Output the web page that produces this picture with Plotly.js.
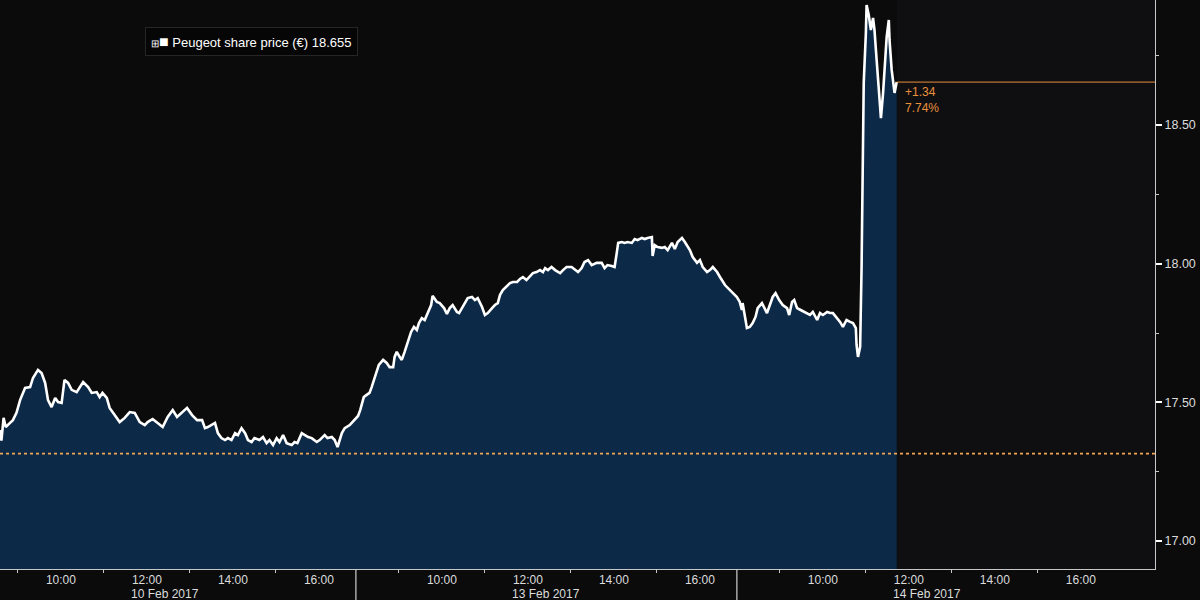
<!DOCTYPE html>
<html>
<head>
<meta charset="utf-8">
<script src="https://cdn.plot.ly/plotly-3.0.1.min.js"></script>
<style>
  html, body { margin: 0; padding: 0; background: #0b0b0c; }
  #chart { width: 1200px; height: 600px; }
</style>
</head>
<body>
<div id="chart"></div>
<script>
// ---------------- DATA ----------------
const dayLabels = ["10 Feb 2017", "13 Feb 2017", "14 Feb 2017"];

const times10Feb = ["08:35","08:37","08:40","08:43","08:49","08:53","08:58","09:03","09:10","09:17",
  "09:21","09:28","09:33","09:38","09:42","09:47","09:52","09:56","10:01","10:05",
  "10:10","10:15","10:22","10:31","10:38","10:43","10:50","10:54","10:58","11:04",
  "11:08","11:15","11:22","11:29","11:36","11:43","11:50","11:57","12:01","12:08",
  "12:15","12:22","12:29","12:36","12:42","12:49","12:56","13:03","13:10","13:17",
  "13:21","13:25","13:30","13:35","13:39","13:44","13:49","13:53","13:58","14:03",
  "14:07","14:12","14:17","14:21","14:26","14:30","14:37","14:42","14:47","14:51",
  "14:56","15:01","15:05","15:10","15:15","15:22","15:26","15:30","15:36","15:40",
  "15:45","15:50","15:57","16:01","16:08","16:12","16:18","16:22","16:26","16:32",
  "16:36","16:43","16:50"];
const price10Feb = [17.400,17.362,17.444,17.411,17.426,17.436,17.462,17.508,17.552,17.555,
  17.588,17.617,17.606,17.570,17.508,17.483,17.516,17.501,17.498,17.581,
  17.570,17.545,17.537,17.573,17.555,17.534,17.537,17.519,17.534,17.516,
  17.480,17.454,17.429,17.444,17.465,17.462,17.429,17.418,17.429,17.440,
  17.426,17.411,17.447,17.472,17.447,17.462,17.480,17.454,17.436,17.436,
  17.407,17.411,17.418,17.426,17.389,17.371,17.364,17.371,17.364,17.389,
  17.382,17.407,17.389,17.364,17.357,17.371,17.364,17.375,17.353,17.364,
  17.346,17.371,17.357,17.382,17.353,17.346,17.357,17.353,17.389,17.382,
  17.375,17.371,17.357,17.364,17.382,17.371,17.375,17.364,17.339,17.389,
  17.407,17.418,17.436];

const times13Feb = ["08:03","08:06","08:08","08:11","08:15","08:19","08:22","08:25","08:29","08:32",
  "08:38","08:43","08:47","08:52","08:54","08:57","09:01","09:04","09:08","09:12",
  "09:17","09:21","09:25","09:28","09:32","09:36","09:40","09:45","09:47","09:53",
  "09:57","10:03","10:07","10:11","10:15","10:21","10:24","10:28","10:32","10:36",
  "10:42","10:46","10:50","10:56","11:00","11:04","11:10","11:14","11:18","11:21",
  "11:25","11:30","11:35","11:39","11:45","11:49","11:53","11:58","12:03","12:07",
  "12:12","12:17","12:21","12:24","12:28","12:33","12:38","12:45","12:49","12:54",
  "13:01","13:05","13:10","13:15","13:19","13:24","13:29","13:36","13:43","13:47",
  "13:51","13:57","14:01","14:04","14:06","14:11","14:15","14:19","14:25","14:29",
  "14:33","14:39","14:43","14:47","14:53","14:54","14:57","15:01","15:07","15:11",
  "15:15","15:21","15:25","15:29","15:35","15:39","15:46","15:50","15:56","16:00",
  "16:04","16:10","16:14","16:18","16:24","16:28","16:35","16:42","16:47"];
const price13Feb = [17.451,17.472,17.490,17.519,17.527,17.534,17.555,17.581,17.609,17.635,
  17.653,17.642,17.627,17.627,17.664,17.682,17.664,17.653,17.682,17.718,
  17.754,17.772,17.761,17.786,17.804,17.797,17.822,17.851,17.884,17.862,
  17.858,17.840,17.819,17.840,17.851,17.826,17.822,17.840,17.858,17.876,
  17.880,17.869,17.876,17.844,17.815,17.822,17.840,17.851,17.858,17.887,
  17.905,17.916,17.930,17.934,17.934,17.945,17.952,17.941,17.956,17.966,
  17.970,17.977,17.970,17.984,17.977,17.988,17.977,17.966,17.977,17.988,
  17.988,17.981,17.970,17.984,18.006,18.013,17.995,18.003,18.003,17.984,
  17.995,17.992,17.988,18.039,18.075,18.078,18.075,18.078,18.075,18.089,
  18.085,18.093,18.089,18.093,18.096,18.028,18.067,18.060,18.057,18.060,
  18.049,18.075,18.053,18.078,18.093,18.078,18.049,18.024,18.003,18.013,
  17.988,17.970,17.977,17.988,17.970,17.952,17.923,17.905,17.891];

const times14Feb = ["08:00","08:04","08:07","08:08","08:11","08:14","08:18","08:22","08:26","08:29",
  "08:35","08:39","08:42","08:46","08:50","08:54","08:59","09:04","09:10","09:13",
  "09:17","09:20","09:24","09:29","09:35","09:42","09:46","09:52","09:56","10:00",
  "10:06","10:10","10:14","10:20","10:24","10:28","10:33","10:38","10:42","10:46",
  "10:47","10:49","10:52","10:54","10:56","10:57","11:00","11:01","11:04","11:07",
  "11:10","11:12","11:15","11:18","11:21","11:24","11:26","11:29","11:32","11:33",
  "11:36","11:38","11:40","11:43"];
const price14Feb = [17.880,17.862,17.833,17.858,17.808,17.768,17.772,17.786,17.808,17.840,
  17.858,17.840,17.822,17.851,17.880,17.894,17.869,17.851,17.840,17.815,
  17.862,17.869,17.840,17.833,17.826,17.815,17.826,17.797,17.822,17.815,
  17.826,17.822,17.822,17.804,17.790,17.772,17.797,17.790,17.786,17.768,
  17.707,17.664,17.700,17.988,18.349,18.652,18.832,18.933,18.897,18.843,
  18.886,18.843,18.735,18.637,18.525,18.616,18.709,18.817,18.879,18.807,
  18.699,18.662,18.616,18.655];

const prevClose = 17.315;
const lastPrice = 18.655;
const seriesName = "Peugeot share price (€)";

const labelHours = ["10:00", "12:00", "14:00", "16:00"];
const minorHours = ["09:00", "11:00", "13:00", "15:00"];
const yTickVals = [17.00, 17.50, 18.00, 18.50];
const yMinorVals = [17.25, 17.75, 18.25, 18.75];

// ---------------- AXIS MAPPING (trading-time axis, sessions joined) ----------------
const SESSION_LEN = 8.86;            // hours per session on the axis (08:00 → ~16:52)
function toX(day, hhmm) {
  const [h, m] = hhmm.split(":").map(Number);
  return day * SESSION_LEN + (h * 60 + m - 480) / 60;
}

const allTimes = [times10Feb, times13Feb, times14Feb];
const allPrices = [price10Feb, price13Feb, price14Feb];
const xs = [], ys = [];
allTimes.forEach((arr, d) => arr.forEach((t, i) => { xs.push(toX(d, t)); ys.push(allPrices[d][i]); }));

const xStart = toX(0, "08:35");
const xEnd = xStart + 1155 / 43;
const lastX = xs[xs.length - 1];

const tickvals = [], ticktext = [], minorvals = [];
for (let d = 0; d < 3; d++) {
  labelHours.forEach(h => { tickvals.push(toX(d, h)); ticktext.push(h); });
  minorHours.forEach(h => minorvals.push(toX(d, h)));
}

const change = lastPrice - prevClose;
const pct = change / prevClose * 100;

const font = "Liberation Sans, Arial, sans-serif";
const orange = "#e8903c";

const trace = {
  x: xs, y: ys, type: "scatter", mode: "lines",
  line: { color: "#ffffff", width: 2.6 },
  fill: "tozeroy", fillcolor: "#0c2948",
  hoverinfo: "skip"
};

const annotations = [];
dayLabels.forEach((lab, d) => {
  annotations.push({
    x: d * SESSION_LEN + SESSION_LEN / 2, xref: "x",
    y: -25 / 569, yref: "paper", yanchor: "middle", xanchor: "center",
    text: lab, showarrow: false, font: { family: font, size: 12, color: "#dcdcdc" }
  });
});
annotations.push({
  x: lastX, xref: "x", y: lastPrice, yref: "y",
  xanchor: "left", yanchor: "top", xshift: 6, yshift: -1, align: "left",
  text: (change >= 0 ? "+" : "") + change.toFixed(2) + "<br>" + pct.toFixed(2) + "%",
  showarrow: false, font: { family: font, size: 12, color: orange }
});
annotations.push({
  x: 145 / 1155, xref: "paper", y: 1 - 27 / 569, yref: "paper",
  xanchor: "left", yanchor: "top", align: "left",
  text: "<span style='font-size:10px'>⊞</span><span style='font-size:16px'>■</span> " + seriesName + " " + lastPrice.toFixed(3),
  showarrow: false, bgcolor: "#060606", bordercolor: "#262626", borderwidth: 1, borderpad: 5,
  font: { family: font, size: 13, color: "#ffffff" }
});

const shapes = [
  { type: "rect", xref: "x", yref: "paper", x0: lastX, x1: xEnd, y0: 0, y1: 1,
    fillcolor: "rgba(200,200,255,0.022)", line: { width: 0 }, layer: "below" },
  { type: "line", xref: "paper", yref: "y", x0: 0, x1: 1, y0: prevClose, y1: prevClose,
    line: { color: "#f2a555", width: 1.6, dash: "dot" } },
  { type: "line", xref: "x", yref: "y", x0: lastX, x1: xEnd, y0: lastPrice, y1: lastPrice,
    line: { color: orange, width: 1 } },
  { type: "line", xref: "x", yref: "paper", x0: SESSION_LEN, x1: SESSION_LEN, y0: 0, y1: -0.06,
    line: { color: "#cfcfcf", width: 1.2 } },
  { type: "line", xref: "x", yref: "paper", x0: 2 * SESSION_LEN, x1: 2 * SESSION_LEN, y0: 0, y1: -0.06,
    line: { color: "#cfcfcf", width: 1.2 } }
];

const layout = {
  width: 1200, height: 600,
  margin: { l: 0, r: 45, t: 0, b: 31, pad: 0 },
  paper_bgcolor: "#0b0b0c", plot_bgcolor: "#0b0b0c",
  showlegend: false,
  font: { family: font, size: 12, color: "#dcdcdc" },
  xaxis: {
    range: [xStart, xEnd], showgrid: false, zeroline: false,
    showline: true, linecolor: "#c8c8c8", linewidth: 1,
    tickmode: "array", tickvals: tickvals, ticktext: ticktext,
    ticks: "", ticklabelstandoff: 0,
    tickfont: { family: font, size: 12, color: "#dcdcdc" },
    minor: { tickmode: "array", tickvals: minorvals, ticks: "outside", ticklen: 3, tickcolor: "#c8c8c8", tickwidth: 1, showgrid: false }
  },
  yaxis: {
    side: "right", range: [16.899, 18.951], showgrid: false, zeroline: false,
    showline: true, linecolor: "#c8c8c8", linewidth: 1,
    tickmode: "array", tickvals: yTickVals, ticktext: yTickVals.map(v => v.toFixed(2)),
    ticks: "outside", ticklen: 6, tickwidth: 2, tickcolor: "#ffffff",
    tickfont: { family: font, size: 12.5, color: "#dcdcdc" },
    minor: { tickmode: "array", tickvals: yMinorVals, ticks: "outside", ticklen: 3, tickcolor: "#c8c8c8", tickwidth: 1, showgrid: false }
  },
  shapes: shapes,
  annotations: annotations
};

Plotly.newPlot("chart", [trace], layout, { displayModeBar: false, staticPlot: true });
</script>
</body>
</html>
